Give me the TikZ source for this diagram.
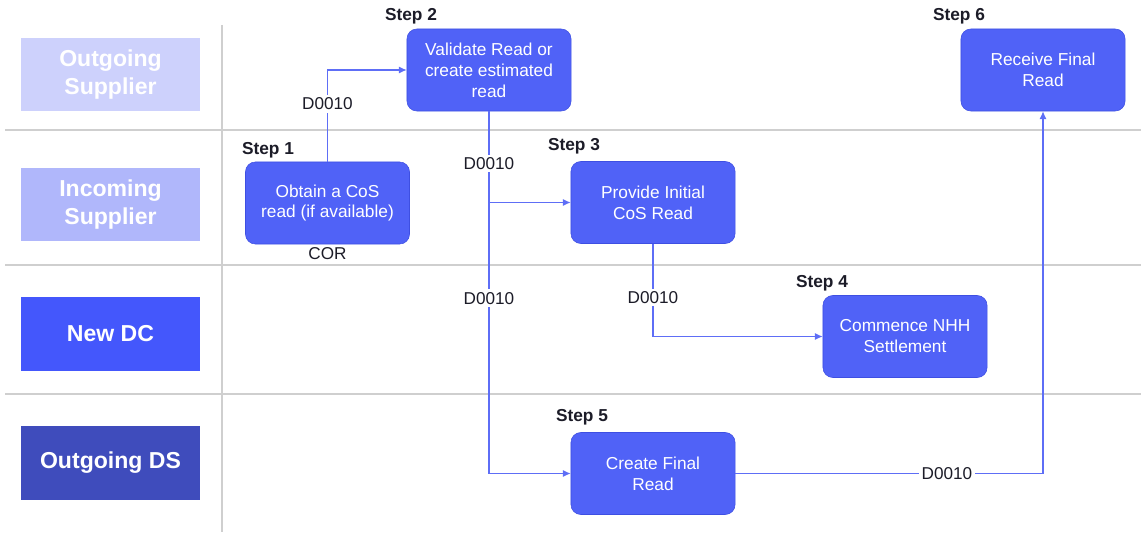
\documentclass[tikz,border=0pt]{standalone}
\usepackage{fontspec}
\setmainfont{Liberation Sans}
\usetikzlibrary{arrows.meta, positioning, calc}
\definecolor{stepblue}{HTML}{5062F7}
\definecolor{stepedge}{HTML}{3E4FE2}
\definecolor{flowblue}{HTML}{5E6EF6}
\definecolor{laneA}{HTML}{CDD1FC}
\definecolor{laneB}{HTML}{B0B7FB}
\definecolor{laneC}{HTML}{4457FC}
\definecolor{laneD}{HTML}{3F4CBC}
\definecolor{gridgray}{HTML}{CFCFCF}
\definecolor{inkdark}{HTML}{1C1C28}
\tikzset{
    lanebox/.style={draw=none, text=white, align=center, font=\fontsize{16.4}{20}\selectfont\bfseries, minimum width=4.475cm, minimum height=1.825cm, inner sep=0pt},
    stepbox/.style={draw=stepedge, thin, fill=stepblue, text=white, rounded corners=7pt, align=center, font=\fontsize{12.3}{14.9}\selectfont, minimum width=4.1cm, minimum height=2.05cm, inner sep=2pt},
    steplabel/.style={text=inkdark, font=\fontsize{12.3}{14}\selectfont\bfseries, inner sep=1pt},
    arr/.style={-{Latex[length=5.5pt, width=5pt]}, draw=flowblue, line width=0.8pt},
    msg/.style={fill=white, text=inkdark, font=\fontsize{12.2}{14}\selectfont, inner sep=2pt},
    sepline/.style={draw=gridgray, line width=0.8pt}
}
\begin{document}
\begin{tikzpicture}[x=0.025cm, y=-0.025cm]
    \useasboundingbox (0,0) rectangle (1141,532);

    % lane grid
    \draw[sepline] (5,130) -- (1141,130);
    \draw[sepline] (5,265) -- (1141,265);
    \draw[sepline] (5,394) -- (1141,394);
    \draw[sepline] (222,25) -- (222,532);

    % lane headers
    \node[lanebox, fill=laneA] (outsup) at (110.5,74.5) {Outgoing\\Supplier};
    \node[lanebox, fill=laneB] (insup) at (110.5,204.5) {Incoming\\Supplier};
    \node[lanebox, fill=laneC] (newdc) at (110.5,334) {New DC};
    \node[lanebox, fill=laneD] (outds) at (110.5,463) {Outgoing DS};

    % steps
    \node[stepbox] (step1) at (327.5,203) {Obtain a CoS\\read (if available)};
    \node[stepbox] (step2) at (489,70) {Validate Read or\\create estimated\\read};
    \node[stepbox] (step3) at (653,202.5) {Provide Initial\\CoS Read};
    \node[stepbox] (step4) at (905,336.5) {Commence NHH\\Settlement};
    \node[stepbox] (step5) at (653,473.5) {Create Final\\Read};
    \node[stepbox] (step6) at (1043,70) {Receive Final\\Read};

    \node[steplabel] (lbl1) at (268,150) {Step 1};
    \node[steplabel] (lbl2) at (411,16) {Step 2};
    \node[steplabel] (lbl3) at (574,146) {Step 3};
    \node[steplabel] (lbl4) at (822,283) {Step 4};
    \node[steplabel] (lbl5) at (582,417) {Step 5};
    \node[steplabel] (lbl6) at (959,16) {Step 6};

    \node[msg, fill=none, below=0pt of step1] (cor) {COR};

    % flows
    \coordinate (split) at (step2.south |- step3.west);
    \draw[arr] (step1.north) |- node[msg, pos=0.315] {D0010} (step2.west);
    \draw[arr] (step2.south) |- node[msg, pos=0.072] {D0010} node[msg, pos=0.258] {D0010} (step5.west);
    \draw[arr] (split) -- (step3.west);
    \draw[arr] (step3.south) |- node[msg, pos=0.29] {D0010} (step4.west);
    \draw[arr] (step5.east) -| node[msg, pos=0.344] {D0010} (step6.south);
\end{tikzpicture}
\end{document}
